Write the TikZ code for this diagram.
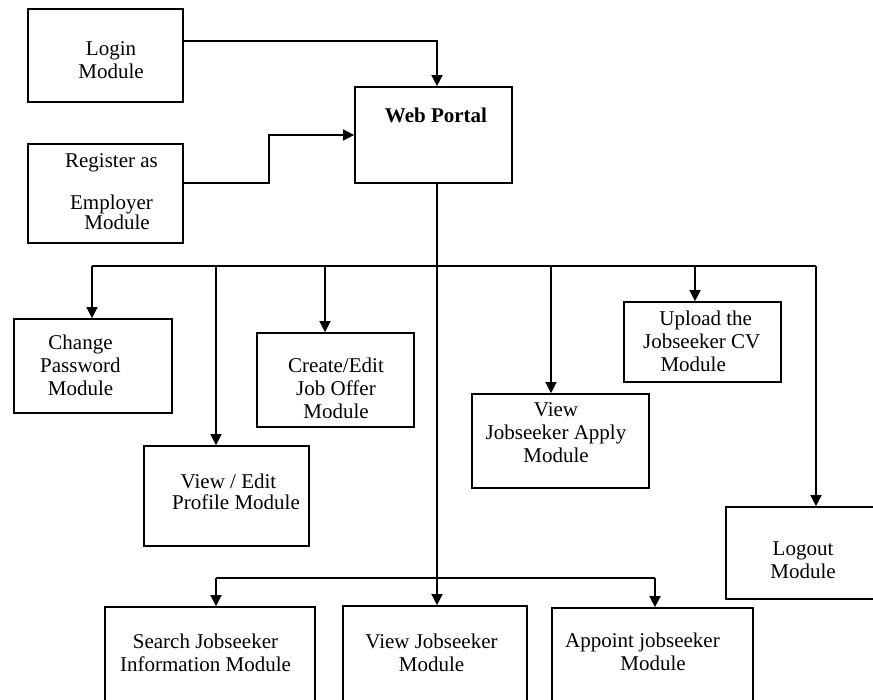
\documentclass[tikz,border=0pt]{standalone}
\usepackage{fontspec}
\setmainfont{Liberation Serif}
\usetikzlibrary{arrows.meta,calc}
\tikzset{
  box/.style={draw=black, line width=1.7pt, rectangle, inner sep=0pt, fill=none},
  txt/.style={align=center, inner sep=0pt, font=\fontsize{21}{23}\selectfont},
  conn/.style={draw=black, line width=1.5pt},
  arr/.style={conn, -{Triangle[length=11pt,width=11pt]}}
}
\begin{document}
\begin{tikzpicture}[x=1pt,y=-1pt]
\useasboundingbox (0,0) rectangle (873,699);
\fill[white] (0,0) rectangle (873,699);
\clip (0,0) rectangle (873,699);

% boxes
\node[box, minimum width=155pt, minimum height=93pt] (login) at (105.5,55.5) {};
\node[box, minimum width=155pt, minimum height=99pt] (reg) at (105.5,193.5) {};
\node[box, minimum width=157pt, minimum height=96pt] (wp) at (433.5,135) {};
\node[box, minimum width=158pt, minimum height=94pt] (cp) at (93,366) {};
\node[box, minimum width=157pt, minimum height=94pt] (ce) at (335.5,380) {};
\node[box, minimum width=165pt, minimum height=100pt] (vep) at (226.5,496) {};
\node[box, minimum width=177pt, minimum height=94pt] (vja) at (560.5,441) {};
\node[box, minimum width=157pt, minimum height=80pt] (up) at (702.5,342) {};
\node[box, minimum width=180pt, minimum height=92pt] (lo) at (816,553) {};
\node[box, minimum width=210pt, minimum height=123pt] (sj) at (210,668.5) {};
\node[box, minimum width=184pt, minimum height=124pt] (vj) at (435,668) {};
\node[box, minimum width=201pt, minimum height=122pt] (ap) at (652.5,669) {};

% texts
\node[txt] (loginT) at (111,59.7) {Login\\Module};
\node[txt] (regT) at (111.5,192) {Register as\\[19pt]Employer\\[-3pt]\hspace*{11pt}Module};
\node[txt, font=\fontsize{21}{23}\selectfont\bfseries] (wpT) at (436,115.7) {Web Portal};
\node[txt] (cpT) at (80.5,365) {Change\\Password\\Module};
\node[txt] (ceT) at (336,388) {Create/Edit\\Job Offer\\Module};
\node[txt] (vepT) at (236,492.2) {View / Edit\hspace*{15pt}\\[-2pt]Profile Module};
\node[txt] (vjaT) at (556,433) {View\\Jobseeker Apply\\Module};
\node[txt] (upT) at (701.7,341.7) {\hspace*{8pt}Upload the\\Jobseeker CV\\Module\hspace*{17pt}};
\node[txt] (loT) at (803,560.5) {Logout\\Module};
\node[txt] (sjT) at (205.5,652.5) {Search Jobseeker\\Information Module};
\node[txt] (vjT) at (431.5,652.8) {View Jobseeker\\Module};
\node[txt] (apT) at (642.5,652.3) {Appoint jobseeker\\\hspace*{21pt}Module};

% connectors from top
\draw[arr] ([yshift=14.5pt]login.east) -| ([xshift=3.5pt]wp.north);
\draw[arr] ([yshift=10.5pt]reg.east) -| ($(reg.east)!0.5!(wp.west)$) |- (wp.west);

% trunk
\draw[arr] ([xshift=3.5pt]wp.south) -- ([xshift=3.5pt]wp.south |- vj.north);

% upper bus
\coordinate (b1) at (92,266);
\coordinate (b2) at (216,266);
\coordinate (b3) at (325,266);
\coordinate (b4) at (551,266);
\coordinate (b5) at (695,266);
\coordinate (b6) at (816,266);
\draw[conn] (b1) -- (b6);
\draw[arr] (b1) -- (b1 |- cp.north);
\draw[arr] (b2) -- (b2 |- vep.north);
\draw[arr] (b3) -- (b3 |- ce.north);
\draw[arr] (b4) -- (b4 |- vja.north);
\draw[arr] (b5) -- (b5 |- up.north);
\draw[arr] (b6) -- (b6 |- lo.north);

% lower bus
\coordinate (c1) at (216,578);
\coordinate (c3) at (655,578);
\draw[conn] (c1) -- (c3);
\draw[arr] (c1) -- (c1 |- sj.north);
\draw[arr] (c3) -- (c3 |- ap.north);
\end{tikzpicture}
\end{document}
